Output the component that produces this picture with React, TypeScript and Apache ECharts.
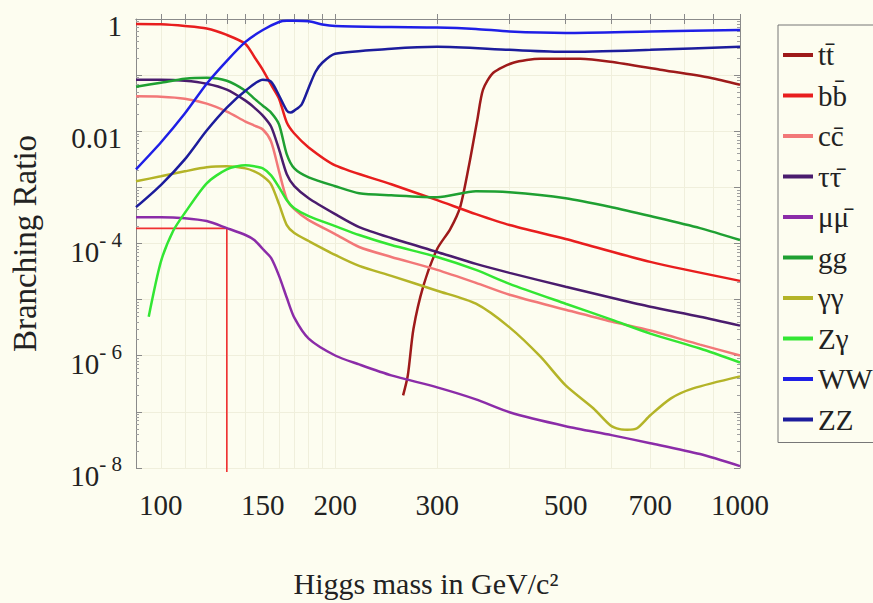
import React, { useEffect, useRef } from 'react';
import * as echarts from 'echarts';

const FONT = '"Liberation Serif", "DejaVu Serif", serif';
const BG = '#fdfdf0';

const legendNames = ['tt̄', 'bb̄', 'cc̄', 'ττ̄', 'μμ̄', 'gg', 'γγ', 'Zγ', 'WW', 'ZZ'];
const colors = ['#9e1a1a', '#e81e1e', '#f27878', '#4a1c6e', '#8b2ca8', '#1fa032', '#b4b428', '#33e633', '#1f1fe6', '#1c1c9c'];

const xTickLabels = [100, 150, 200, 300, 500, 700, 1000];
const xTicks = [100, 110, 120, 130, 140, 150, 160, 170, 180, 190, 200, 300, 400, 500, 600, 700, 800, 900, 1000];
const xMin = 90.6;
const xMax = 1000;
const yMin = 1e-8;
const yMax = 1;
const yDecades = [-8, -7, -6, -5, -4, -3, -2, -1];
const yMinorMultipliers = [2, 3, 4, 5, 6, 7, 8, 9];

// Higgs mass (GeV/c^2) and branching ratios
const massTT = [262, 267, 273, 284, 300, 316, 329, 342, 352, 360, 375, 406, 452, 530, 597, 728, 888, 1000];
const brTT = [1.97e-7, 4.5e-7, 3.0e-6, 1.76e-5, 8.0e-5, 1.81e-4, 4.6e-4, 3.15e-3, 0.0162, 0.055, 0.11, 0.166, 0.195, 0.195, 0.173, 0.125, 0.09, 0.0675];

const massBB = [90.6, 100, 110, 120, 130, 140, 145, 150, 155, 160, 165, 170, 180, 200, 250, 300, 350, 400, 500, 700, 1000];
const brBB = [0.815, 0.805, 0.751, 0.678, 0.52, 0.36, 0.212, 0.1245, 0.0675, 0.0381, 0.0143, 0.0091, 0.00515, 0.00247, 0.001135, 5.91e-4, 3.34e-4, 2.13e-4, 1.2e-4, 4.7e-5, 2.16e-5];

const massCommon = [90.6, 100, 110, 120, 130, 140, 145, 150, 155, 160, 165, 170, 180, 200, 220, 250, 300, 350, 400, 500, 600, 700, 853, 1000];
const brCC = [0.0419, 0.0413, 0.0381, 0.0311, 0.0224, 0.0149, 0.01265, 0.01074, 0.00658, 0.00193, 6.15e-4, 4.09e-4, 2.61e-4, 1.475e-4, 8.67e-5, 5.76e-5, 3.39e-5, 1.99e-5, 1.22e-5, 6.61e-6, 4.05e-6, 2.81e-6, 1.58e-6, 1.01e-6];
const brTauTau = [0.0828, 0.0828, 0.0795, 0.0703, 0.055, 0.0351, 0.0264, 0.019, 0.01215, 0.00474, 0.00171, 0.00105, 6.41e-4, 3.34e-4, 1.96e-4, 1.25e-4, 7.07e-5, 4.33e-5, 3.0e-5, 1.69e-5, 1.08e-5, 7.48e-6, 4.97e-6, 3.44e-6];
const brMuMu = [2.95e-4, 2.95e-4, 2.83e-4, 2.51e-4, 1.88e-4, 1.416e-4, 1.153e-4, 7.98e-5, 5.53e-5, 2.65e-5, 1.08e-5, 4.77e-6, 2.02e-6, 1.01e-6, 7.0e-7, 4.47e-7, 2.73e-7, 1.67e-7, 9.85e-8, 5.56e-8, 3.85e-8, 2.77e-8, 1.77e-8, 1.08e-8];
const brGG = [0.0622, 0.0732, 0.0862, 0.0898, 0.0795, 0.0528, 0.0381, 0.0285, 0.0215, 0.0132, 0.00387, 0.00218, 0.00151, 0.00105, 7.87e-4, 7.25e-4, 6.68e-4, 8.53e-4, 8.19e-4, 6.41e-4, 4.44e-4, 3.08e-4, 1.88e-4, 1.153e-4];

const massGamGam = [90.6, 100, 110, 120, 130, 140, 145, 150, 155, 160, 165, 170, 180, 200, 220, 250, 300, 350, 400, 452, 500, 558, 597, 620, 639, 664, 700, 760, 830, 1000];
const brGamGam = [1.284e-3, 1.575e-3, 1.93e-3, 2.275e-3, 2.37e-3, 2.18e-3, 1.93e-3, 1.575e-3, 1.135e-3, 5.02e-4, 2.13e-4, 1.535e-4, 1.107e-4, 6.25e-5, 3.99e-5, 2.65e-5, 1.44e-5, 8.45e-6, 3.2e-6, 9.7e-7, 2.96e-7, 1.16e-7, 5.79e-8, 4.92e-8, 4.82e-8, 5.12e-8, 8.7e-8, 1.74e-7, 2.62e-7, 4.29e-7];

const massZGam = [95.3, 100, 105, 110, 120, 130, 140, 145, 150, 155, 160, 165, 170, 180, 200, 220, 250, 300, 350, 400, 500, 600, 700, 853, 1000];
const brZGam = [4.97e-6, 4.7e-5, 1.667e-4, 3.5e-4, 1.183e-3, 2.1e-3, 2.47e-3, 2.37e-3, 2.18e-3, 1.64e-3, 1.005e-3, 5.91e-4, 4.26e-4, 3.08e-4, 2.04e-4, 1.416e-4, 9.4e-5, 5.76e-5, 3.39e-5, 1.91e-5, 8.45e-6, 4.4e-6, 2.48e-6, 1.345e-6, 7.59e-7];

const massWW = [90.6, 100, 110, 120, 130, 140, 150, 160, 165, 170, 180, 190, 200, 250, 300, 350, 400, 500, 700, 1000];
const brWW = [2.1e-3, 6.31e-3, 0.0207, 0.0703, 0.18, 0.391, 0.638, 0.885, 0.93, 0.93, 0.91, 0.8, 0.75, 0.72, 0.707, 0.665, 0.6, 0.565, 0.6, 0.638];

const massZZ = [90.6, 100, 110, 120, 130, 140, 150, 155, 160, 165, 167.5, 170, 175, 180, 185, 190, 200, 250, 300, 400, 500, 700, 1000];
const brZZ = [4.44e-4, 1.1e-3, 3.15e-3, 0.0103, 0.0264, 0.0528, 0.0826, 0.0762, 0.0433, 0.0233, 0.0215, 0.0233, 0.0299, 0.0596, 0.1148, 0.166, 0.2395, 0.2937, 0.3187, 0.2818, 0.26, 0.2818, 0.3187];

// Light-Higgs marker: m_H and BR(mu mu)
const markerMass = 130;
const markerBR = 1.86e-4;

const seriesMass = [massTT, massBB, massCommon, massCommon, massCommon, massCommon, massGamGam, massZGam, massWW, massZZ];
const seriesBR = [brTT, brBB, brCC, brTauTau, brMuMu, brGG, brGamGam, brZGam, brWW, brZZ];

const lg = (v: number) => Math.log10(v);

export default function App() {
  const ref = useRef<HTMLDivElement>(null);

  useEffect(() => {
    if (!ref.current) return;
    const chart = echarts.init(ref.current, undefined, { renderer: 'svg' });

    const lineSeries: any[] = legendNames.map((name, i) => ({
      name,
      type: 'line',
      data: seriesMass[i].map((m, j) => [lg(m), seriesBR[i][j]]),
      smooth: 0.25,
      symbol: 'none',
      showSymbol: false,
      color: colors[i],
      lineStyle: { width: 2.5, color: colors[i] },
      z: 3,
    }));

    lineSeries.push({
      name: 'marker',
      type: 'line',
      data: [
        [lg(xMin), markerBR],
        [lg(markerMass), markerBR],
        [lg(markerMass), 8.5e-9],
      ],
      symbol: 'none',
      showSymbol: false,
      clip: false,
      color: '#f03030',
      lineStyle: { width: 1.6, color: '#f03030' },
      z: 2,
    });

    const xTickVals = xTicks.map(lg);
    const xLabelVals = xTickLabels.map(lg);
    const yMinorVals: number[] = [];
    yDecades.forEach((d) => yMinorMultipliers.forEach((k) => yMinorVals.push(d + lg(k))));
    const axisColor = '#8a8a8a';
    const gridColor = '#f0efdc';

    const minorAxis = (position: 'left' | 'right') => ({
      type: 'value',
      min: lg(yMin),
      max: lg(yMax),
      position,
      axisLine: { show: false },
      axisTick: { show: true, inside: true, length: 3, customValues: yMinorVals, lineStyle: { color: '#a0a0a0' } },
      axisLabel: { show: false },
      splitLine: { show: false },
    });

    const option: any = {
      animation: false,
      backgroundColor: BG,
      grid: { left: 135, top: 19, width: 605, height: 451, containLabel: false },
      legend: {
        data: legendNames,
        orient: 'vertical',
        left: 778,
        top: 25,
        padding: [15, 60, 8, 5],
        icon: 'rect',
        itemWidth: 30,
        itemHeight: 4,
        itemGap: 10.5,
        borderColor: '#777',
        borderWidth: 1,
        textStyle: { fontFamily: FONT, fontSize: 29, lineHeight: 30, color: '#222' },
      },
      xAxis: [
        {
          type: 'value',
          min: lg(xMin),
          max: lg(xMax),
          position: 'bottom',
          name: 'Higgs mass in GeV/c²',
          nameLocation: 'middle',
          nameGap: 100,
          nameTextStyle: { fontFamily: FONT, fontSize: 30, color: '#222', padding: [0, 24, 0, 0] },
          axisLine: { show: true, lineStyle: { color: axisColor, width: 1 } },
          axisTick: { show: true, inside: true, length: 5, customValues: xTickVals, lineStyle: { color: axisColor } },
          axisLabel: {
            customValues: xLabelVals,
            formatter: (v: number) => String(Math.round(Math.pow(10, v))),
            fontFamily: FONT,
            fontSize: 29,
            color: '#222',
            margin: 22,
          },
          splitLine: { show: true, lineStyle: { color: gridColor, width: 1 } },
        },
        {
          type: 'value',
          min: lg(xMin),
          max: lg(xMax),
          position: 'top',
          axisLine: { show: true, lineStyle: { color: axisColor, width: 1 } },
          axisTick: { show: true, inside: true, length: 5, customValues: xTickVals, lineStyle: { color: axisColor } },
          axisLabel: { show: false },
          splitLine: { show: false },
        },
      ],
      yAxis: [
        {
          type: 'log',
          logBase: 10,
          min: yMin,
          max: yMax,
          splitNumber: 8,
          position: 'left',
          name: 'Branching Ratio',
          nameLocation: 'middle',
          nameGap: 95,
          nameTextStyle: { fontFamily: FONT, fontSize: 33, color: '#222' },
          axisLine: { show: true, lineStyle: { color: axisColor, width: 1 } },
          axisTick: { show: true, inside: true, length: 6, lineStyle: { color: axisColor } },
          axisLabel: {
            margin: 14,
            padding: [8, 0, 0, 0],
            color: '#222',
            fontFamily: FONT,
            fontSize: 29,
            formatter: (v: number) => {
              const e = Math.round(Math.log10(v));
              if (e === 0) return '{n|1}';
              if (e === -2) return '{n|0.01}';
              if (e % 2 !== 0) return '';
              return `{b|10}{s|- ${-e}}`;
            },
            rich: {
              n: { fontFamily: FONT, fontSize: 29, lineHeight: 34, verticalAlign: 'bottom', color: '#222' },
              b: { fontFamily: FONT, fontSize: 29, lineHeight: 37, verticalAlign: 'bottom', color: '#222' },
              s: { fontFamily: FONT, fontSize: 21, lineHeight: 21, verticalAlign: 'top', color: '#222' },
            },
          },
          splitLine: { show: true, lineStyle: { color: gridColor, width: 1 } },
        },
        {
          type: 'log',
          logBase: 10,
          min: yMin,
          max: yMax,
          splitNumber: 8,
          position: 'right',
          axisLine: { show: true, lineStyle: { color: axisColor, width: 1 } },
          axisTick: { show: true, inside: true, length: 6, lineStyle: { color: axisColor } },
          axisLabel: { show: false },
          splitLine: { show: false },
        },
        minorAxis('left'),
        minorAxis('right'),
      ],
      series: lineSeries,
    };

    chart.setOption(option);
    return () => chart.dispose();
  }, []);

  return (
    <div
      ref={ref}
      style={{ position: 'fixed', left: 0, top: 0, width: 873, height: 603, background: BG }}
    />
  );
}
